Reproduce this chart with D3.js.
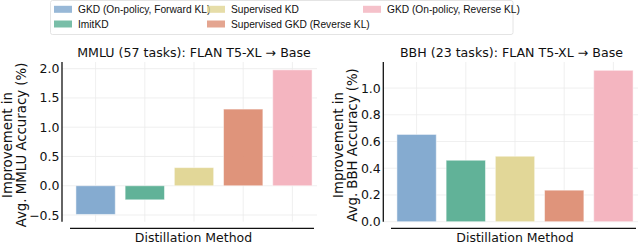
<!DOCTYPE html>
<html>
<head>
<meta charset="utf-8">
<script src="https://cdn.jsdelivr.net/npm/d3@7"></script>
<style>
  body { margin: 0; background: #fff; }
  svg text { font-family: "DejaVu Sans", sans-serif; fill: #111; }
</style>
</head>
<body>
<svg id="chart" width="640" height="245"></svg>
<script>
const methods = ['GKD (On-policy, Forward KL)', 'ImitKD', 'Supervised KD', 'Supervised GKD (Reverse KL)', 'GKD (On-policy, Reverse KL)'];
const colors = ['#7ea6cd', '#58ae92', '#e0d592', '#dd8e74', '#f3b1bd'];
const mmluValues = [-0.49, -0.24, 0.31, 1.31, 1.98];
const bbhValues = [0.653, 0.46, 0.49, 0.236, 1.133];
const mmluTicks = [-0.5, 0.0, 0.5, 1.0, 1.5, 2.0];
const bbhTicks = [0.0, 0.2, 0.4, 0.6, 0.8, 1.0];

const svg = d3.select('#chart');

const panels = [
  { title: 'MMLU (57 tasks): FLAN T5-XL \u2192 Base', ylab: 'Avg. MMLU Accuracy (%)', values: mmluValues, ticks: mmluTicks,
    domain: [-0.614, 2.114], axisX: 62, band: [71, 317], xline: [70, 314], titleX: 194, labX: 193.5, ylabX: 7 },
  { title: 'BBH (23 tasks): FLAN T5-XL \u2192 Base', ylab: 'Avg. BBH Accuracy (%)', values: bbhValues, ticks: bbhTicks,
    domain: [0, 1.195], axisX: 383.3, band: [392, 638], xline: [391, 636], titleX: 511.5, labX: 515, ylabX: 338 }
];

const plotTop = 62, plotBottom = 221.7;

panels.forEach(p => {
  const g = svg.append('g');
  const y = d3.scaleLinear().domain(p.domain).range([plotBottom, plotTop]);
  const x = d3.scaleBand().domain(methods).range(p.band).paddingInner(0.2).paddingOuter(0.1);

  // grid
  g.append('g').selectAll('line.h')
    .data(p.ticks)
    .enter().append('line')
    .attr('x1', p.axisX).attr('x2', p.band[1])
    .attr('y1', d => y(d)).attr('y2', d => y(d))
    .attr('stroke', '#ebebeb').attr('stroke-width', 0.8)

  g.append('g').selectAll('line.v')
    .data(methods)
    .enter().append('line')
    .attr('x1', d => x(d) + x.bandwidth() / 2).attr('x2', d => x(d) + x.bandwidth() / 2)
    .attr('y1', plotTop).attr('y2', plotBottom)
    .attr('stroke', '#ebebeb').attr('stroke-width', 0.8)

  // bars
  g.append('g').selectAll('rect')
    .data(p.values)
    .enter().append('rect')
    .attr('x', (d, i) => x(methods[i]))
    .attr('width', x.bandwidth())
    .attr('y', d => y(Math.max(0, d)))
    .attr('height', d => Math.abs(y(d) - y(0)))
    .attr('fill', (d, i) => colors[i])
    .attr('fill-opacity', 0.95)
    .attr('stroke', '#ffffff').attr('stroke-opacity', 0.5).attr('stroke-width', 1)

  // y axis
  const yAxis = d3.axisLeft(y).tickValues(p.ticks).tickSize(0).tickPadding(2.5)
    .tickFormat(d => d3.format('.1f')(d).replace('-', '\u2212'));
  const ya = g.append('g').attr('transform', `translate(${p.axisX},0)`).call(yAxis);
  ya.select('.domain').remove();
  ya.selectAll('text').attr('font-size', 12.5).attr('font-family', '"DejaVu Sans", sans-serif').attr('fill', '#111');
  g.append('line')
    .attr('x1', p.axisX).attr('x2', p.axisX).attr('y1', plotTop).attr('y2', plotBottom)
    .attr('stroke', '#111').attr('stroke-width', 1.3)

  // bottom spine (offset)
  g.append('line')
    .attr('x1', p.xline[0]).attr('x2', p.xline[1]).attr('y1', 228.3).attr('y2', 228.3)
    .attr('stroke', '#111').attr('stroke-width', 1.3)

  g.append('text')
    .attr('x', p.titleX).attr('y', 57)
    .attr('text-anchor', 'middle').attr('font-size', 12.6)
    .text(p.title)

  g.append('text')
    .attr('x', p.labX).attr('y', 242)
    .attr('text-anchor', 'middle').attr('font-size', 12.5)
    .text('Distillation Method')

  const yl = g.append('text')
    .attr('transform', `translate(${p.ylabX},145) rotate(-90)`)
    .attr('text-anchor', 'middle').attr('font-size', 13.3)
  yl.append('tspan').attr('x', 0).attr('dy', '0.4em').text('Improvement in')
  yl.append('tspan').attr('x', 0).attr('dy', '1.0em').text(p.ylab)
});

// legend
const leg = svg.append('g');
leg.append('rect')
  .attr('x', 50.5).attr('y', 0.5).attr('width', 462.5).attr('height', 34)
  .attr('rx', 2).attr('fill', '#fff').attr('stroke', '#dddddd').attr('stroke-width', 0.8)

const legPos = [[54, 9.3], [54, 24], [207, 9.3], [207, 24], [363, 9.3]];
const items = leg.selectAll('g.item')
  .data(methods)
  .enter().append('g')
  .attr('transform', (d, i) => `translate(${legPos[i][0]},${legPos[i][1]})`)

items.append('rect')
  .attr('x', 0).attr('y', -3.5).attr('width', 18).attr('height', 7)
  .attr('fill', (d, i) => colors[i])
  .attr('fill-opacity', 0.8)

items.append('text')
  .attr('x', 24).attr('y', 0).attr('dy', '0.35em')
  .attr('font-size', 10.2)
  .style('font-family', '"Liberation Sans", Arial, sans-serif')
  .text(d => d)
</script>
</body>
</html>
